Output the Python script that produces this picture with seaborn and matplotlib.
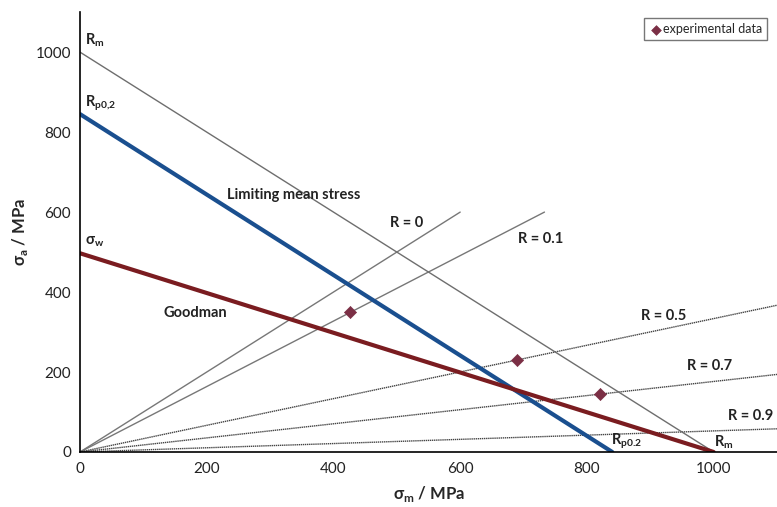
import matplotlib
matplotlib.use("Agg")
import matplotlib.pyplot as plt
import seaborn as sns
import pandas as pd

# ---- data ----
rm_x = [0, 1000]
rm_y = [1000, 0]
rp_x = [0, 840]
rp_y = [845, 0]
goodman_x = [0, 1000]
goodman_y = [497, 0]

ratio_labels = ["R = 0", "R = 0.1", "R = 0.5", "R = 0.7", "R = 0.9"]
ratio_end_x = [600, 733, 1100, 1100, 1100]
ratio_end_y = [600, 600, 367, 194, 58]

exp_sm = [426, 690, 821]
exp_sa = [350, 230, 146]

sns.set_theme(style="white")
plt.rcParams["font.family"] = ["Lato", "DejaVu Sans"]
plt.rcParams["mathtext.fontset"] = "custom"
plt.rcParams["mathtext.rm"] = "Lato:bold"
plt.rcParams["mathtext.bf"] = "Lato:bold"

fig = plt.figure(figsize=(7.77, 5.07), dpi=100)
ax = fig.add_axes([0.103, 0.1085, 0.897, 0.8675])

# ratio lines
for i, lab in enumerate(ratio_labels):
    df = pd.DataFrame({"x": [0, ratio_end_x[i]], "y": [0, ratio_end_y[i]]})
    ls = "-" if i < 2 else (0, (1, 0.5))
    sns.lineplot(data=df, x="x", y="y", ax=ax, color="#444444" if i >= 2 else "#777777",
                 lw=1.0, linestyle=ls, legend=False)

# limit lines
sns.lineplot(x=rm_x, y=rm_y, ax=ax, color="#6e6e6e", lw=1.0, legend=False)
sns.lineplot(x=rp_x, y=rp_y, ax=ax, color="#1a4f8f", lw=3.0, legend=False)
sns.lineplot(x=goodman_x, y=goodman_y, ax=ax, color="#7a1c20", lw=3.0, legend=False)

# experimental data
sns.scatterplot(x=exp_sm, y=exp_sa, ax=ax, marker="D", s=38, color="#7b2f45",
                edgecolor="#7b2f45", label="experimental data", zorder=5)

ax.set_xlim(0, 1100)
ax.set_ylim(0, 1100)
ax.set_xticks([0, 200, 400, 600, 800, 1000])
ax.set_yticks([0, 200, 400, 600, 800, 1000])
ax.tick_params(axis="both", direction="inout", length=6, width=1, colors="black",
               labelsize=11, labelcolor="#222222")
ax.tick_params(axis="x", pad=4)
for s in ["top", "right"]:
    ax.spines[s].set_visible(False)
for s in ["left", "bottom"]:
    ax.spines[s].set_color("black")
    ax.spines[s].set_linewidth(1.2)

ax.set_xlabel(r"σ$_\mathregular{m}$ / MPa", fontsize=12, fontweight="bold", labelpad=6)
ax.set_ylabel(r"σ$_\mathregular{a}$ / MPa", fontsize=12, fontweight="bold", labelpad=4)

tk = dict(fontsize=10.5, fontweight="bold", color="#222222")
ax.text(8, 1008, r"R$_\mathregular{m}$", ha="left", va="bottom", **tk)
ax.text(8, 848, r"R$_\mathregular{p0{,}2}$", ha="left", va="bottom", **tk)
ax.text(8, 508, r"σ$_\mathregular{w}$", ha="left", va="bottom", **tk)
ax.text(232, 642, "Limiting mean stress", ha="left", va="center", **tk)
ax.text(490, 572, "R = 0", ha="left", va="center", **tk)
ax.text(692, 532, "R = 0.1", ha="left", va="center", **tk)
ax.text(131, 348, "Goodman", ha="left", va="center", **tk)
ax.text(885, 340, "R = 0.5", ha="left", va="center", **tk)
ax.text(958, 215, "R = 0.7", ha="left", va="center", **tk)
ax.text(1022, 90, "R = 0.9", ha="left", va="center", **tk)
ax.text(838, 2, r"R$_\mathregular{p0.2}$", ha="left", va="bottom", **tk)
ax.text(1000, 2, r"R$_\mathregular{m}$", ha="left", va="bottom", **tk)

leg = ax.legend(loc="upper right", bbox_to_anchor=(0.995, 1.0), fontsize=9,
                frameon=True, fancybox=False, handletextpad=0.1, handlelength=1.0,
                borderpad=0.4, markerscale=0.8)
leg.get_frame().set_edgecolor("#555555")
leg.get_frame().set_linewidth(1.0)

fig.savefig("out.png", dpi=100)
